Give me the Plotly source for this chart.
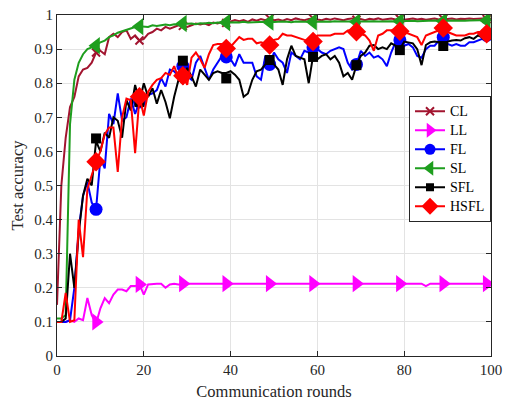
import plotly.graph_objects as go

ROUNDS = list(range(0, 101))
MARKER_ROUNDS = [9, 19, 29, 39, 49, 59, 69, 79, 89, 99]

CL = [0.15, 0.50, 0.64, 0.73, 0.76, 0.82, 0.84, 0.845, 0.86, 0.89,
      0.895, 0.885, 0.935, 0.945, 0.935, 0.95, 0.955, 0.93, 0.94, 0.925,
      0.93, 0.945, 0.95, 0.96, 0.955, 0.965, 0.96, 0.965, 0.97, 0.968,
      0.965, 0.97, 0.975, 0.972, 0.975, 0.97, 0.978, 0.975, 0.98, 0.977,
      0.98, 0.985, 0.982, 0.985, 0.98, 0.987, 0.983, 0.988, 0.985, 0.99,
      0.985, 0.987, 0.983, 0.988, 0.985, 0.99, 0.987, 0.985, 0.988, 0.99,
      0.987, 0.985, 0.989, 0.986, 0.99, 0.987, 0.985, 0.988, 0.99, 0.986,
      0.988, 0.985, 0.989, 0.987, 0.99, 0.986, 0.988, 0.99, 0.987, 0.989,
      0.986, 0.988, 0.99, 0.987, 0.989, 0.986, 0.988, 0.99, 0.987, 0.989,
      0.988, 0.99, 0.987, 0.989, 0.988, 0.99, 0.988, 0.989, 0.99, 0.988,
      0.989]
LL = [0.10, 0.10, 0.10, 0.105, 0.10, 0.11, 0.105, 0.17, 0.12, 0.095,
      0.14, 0.17, 0.155, 0.18, 0.195, 0.195, 0.19, 0.205, 0.205, 0.21,
      0.18, 0.21, 0.212, 0.212, 0.212, 0.20, 0.21, 0.212, 0.21, 0.212,
      0.212, 0.212, 0.211, 0.212, 0.212, 0.212, 0.213, 0.212, 0.212, 0.212,
      0.212, 0.212, 0.212, 0.212, 0.212, 0.212, 0.212, 0.212, 0.212, 0.212,
      0.212, 0.212, 0.212, 0.212, 0.212, 0.212, 0.212, 0.212, 0.212, 0.212,
      0.212, 0.212, 0.212, 0.212, 0.212, 0.212, 0.212, 0.212, 0.212, 0.212,
      0.212, 0.212, 0.212, 0.212, 0.212, 0.212, 0.212, 0.212, 0.212, 0.212,
      0.212, 0.212, 0.212, 0.212, 0.212, 0.205, 0.212, 0.212, 0.212, 0.212,
      0.212, 0.212, 0.212, 0.212, 0.212, 0.212, 0.212, 0.212, 0.212, 0.212,
      0.212]
FL = [0.10, 0.10, 0.10, 0.105, 0.20, 0.37, 0.47, 0.51, 0.45, 0.43,
      0.58, 0.55, 0.71, 0.68, 0.77, 0.69, 0.70, 0.755, 0.71, 0.745,
      0.74, 0.765, 0.77, 0.78, 0.815, 0.79, 0.84, 0.835, 0.82, 0.85,
      0.82, 0.81, 0.86, 0.88, 0.845, 0.81, 0.84, 0.86, 0.88, 0.875,
      0.87, 0.85, 0.885, 0.86, 0.86, 0.86, 0.82, 0.81, 0.88, 0.855,
      0.89, 0.87, 0.86, 0.83, 0.89, 0.88, 0.87, 0.895, 0.89, 0.90,
      0.90, 0.89, 0.885, 0.895, 0.90, 0.905, 0.90, 0.86, 0.84, 0.855,
      0.895, 0.88, 0.89, 0.875, 0.88, 0.87, 0.85, 0.89, 0.92, 0.925,
      0.91, 0.915, 0.905, 0.88, 0.875, 0.90, 0.91, 0.91, 0.925, 0.93,
      0.915, 0.91, 0.915, 0.91, 0.91, 0.92, 0.92, 0.925, 0.93, 0.935,
      0.935]
SL = [0.11, 0.11, 0.12, 0.68, 0.81, 0.86, 0.885, 0.90, 0.905, 0.91,
      0.92, 0.925, 0.935, 0.94, 0.948, 0.952, 0.958, 0.962, 0.965, 0.967,
      0.967, 0.965, 0.97, 0.968, 0.97, 0.972, 0.97, 0.973, 0.972, 0.975,
      0.974, 0.975, 0.973, 0.976, 0.975, 0.977, 0.976, 0.978, 0.977, 0.978,
      0.977, 0.979, 0.978, 0.98, 0.978, 0.979, 0.98, 0.979, 0.98, 0.979,
      0.98, 0.979, 0.981, 0.98, 0.979, 0.981, 0.98, 0.981, 0.98, 0.98,
      0.981, 0.98, 0.981, 0.98, 0.982, 0.981, 0.98, 0.981, 0.982, 0.98,
      0.981, 0.982, 0.981, 0.982, 0.981, 0.982, 0.983, 0.982, 0.981, 0.982,
      0.983, 0.982, 0.983, 0.982, 0.983, 0.982, 0.983, 0.984, 0.983, 0.982,
      0.983, 0.984, 0.983, 0.984, 0.983, 0.984, 0.984, 0.983, 0.984, 0.984,
      0.985]
SFL = [0.10, 0.10, 0.11, 0.30, 0.20, 0.36, 0.47, 0.52, 0.50, 0.63,
       0.60, 0.655, 0.64, 0.70, 0.69, 0.64, 0.75, 0.72, 0.795, 0.745,
       0.80, 0.76, 0.785, 0.74, 0.78, 0.745, 0.697, 0.76, 0.81, 0.80,
       0.845, 0.82, 0.79, 0.84, 0.825, 0.81, 0.83, 0.835, 0.83, 0.83,
       0.835, 0.825, 0.81, 0.76, 0.77, 0.81, 0.835, 0.84, 0.855, 0.865,
       0.855, 0.84, 0.795, 0.87, 0.91, 0.88, 0.875, 0.87, 0.80, 0.88,
       0.87, 0.88, 0.885, 0.87, 0.88, 0.86, 0.82, 0.83, 0.81, 0.853,
       0.88, 0.89, 0.91, 0.912, 0.90, 0.905, 0.90, 0.917, 0.91, 0.90,
       0.922, 0.92, 0.917, 0.90, 0.853, 0.912, 0.92, 0.922, 0.92, 0.91,
       0.922, 0.925, 0.927, 0.925, 0.932, 0.935, 0.93, 0.94, 0.935, 0.94,
       0.945]
HSFL = [0.10, 0.10, 0.185, 0.10, 0.105, 0.40, 0.29, 0.49, 0.53, 0.57,
        0.60, 0.65, 0.67, 0.67, 0.54, 0.70, 0.755, 0.75, 0.595, 0.76,
        0.705, 0.775, 0.795, 0.81, 0.815, 0.83, 0.824, 0.85, 0.815, 0.82,
        0.795, 0.875, 0.89, 0.87, 0.845, 0.885, 0.912, 0.915, 0.915, 0.905,
        0.907, 0.922, 0.935, 0.927, 0.93, 0.93, 0.917, 0.92, 0.915, 0.912,
        0.927, 0.93, 0.945, 0.94, 0.94, 0.935, 0.93, 0.927, 0.925, 0.922,
        0.94, 0.94, 0.94, 0.94, 0.945, 0.946, 0.945, 0.955, 0.956, 0.95,
        0.945, 0.94, 0.925, 0.895, 0.94, 0.945, 0.955, 0.955, 0.96, 0.955,
        0.95, 0.945, 0.94, 0.935, 0.912, 0.94, 0.945, 0.95, 0.955, 0.96,
        0.95, 0.945, 0.94, 0.94, 0.94, 0.945, 0.945, 0.95, 0.95, 0.95,
        0.945]

CL_MK = [0.89, 0.925, 0.968, 0.977, 0.99, 0.99, 0.986, 0.989, 0.989, 0.988]
LL_MK = [0.10, 0.21, 0.212, 0.212, 0.212, 0.212, 0.212, 0.212, 0.212, 0.212]
FL_MK = [0.43, 0.745, 0.85, 0.877, 0.855, 0.905, 0.855, 0.927, 0.935, 0.94]
SL_MK = [0.91, 0.966, 0.975, 0.978, 0.979, 0.98, 0.98, 0.982, 0.982, 0.984]
SFL_MK = [0.638, 0.745, 0.866, 0.814, 0.868, 0.877, 0.853, 0.897, 0.909, 0.943]
HSFL_MK = [0.57, 0.76, 0.822, 0.902, 0.912, 0.922, 0.951, 0.952, 0.962, 0.945]

NAMES = ["CL", "LL", "FL", "SL", "SFL", "HSFL"]
COLORS = ["#A2142F", "#FF00FF", "#0000FF", "#1E9E1E", "#000000", "#FF0000"]
SYMBOLS = ["x-thin", "triangle-right", "circle", "triangle-left", "square", "diamond"]
SIZES = [8, 15, 13, 15, 10, 15]
LEG_SIZES = [8, 13, 11, 13, 8, 13]

series = [CL, LL, FL, SL, SFL, HSFL]
marks = [CL_MK, LL_MK, FL_MK, SL_MK, SFL_MK, HSFL_MK]

SERIF = "Liberation Serif"

fig = go.Figure()
for name, col, sym, sz, ys, mk in zip(NAMES, COLORS, SYMBOLS, SIZES, series, marks):
    mline = dict(color=col, width=2) if sym == "x-thin" else dict(width=0)
    fig.add_trace(go.Scatter(x=ROUNDS, y=ys, mode="lines", line=dict(color=col, width=2),
                             showlegend=False, hoverinfo="skip"))
    fig.add_trace(go.Scatter(x=MARKER_ROUNDS, y=mk, mode="markers",
                             marker=dict(symbol=sym, size=sz, color=col, line=mline),
                             showlegend=False, hoverinfo="skip"))

for name, col, sym, lsz in zip(NAMES, COLORS, SYMBOLS, LEG_SIZES):
    mline = dict(color=col, width=2) if sym == "x-thin" else dict(width=0)
    fig.add_trace(go.Scatter(x=[None], y=[None], mode="lines+markers",
                             name='<span style="font-size:14px">' + name + "</span>",
                             line=dict(color=col, width=2),
                             marker=dict(symbol=sym, size=lsz, color=col, line=mline)))

axis_common = dict(showline=True, linecolor="#262626", linewidth=1, mirror="ticks",
                   ticks="inside", ticklen=5, tickcolor="#262626", automargin=False,
                   showgrid=True, gridcolor="#e3e3e3", gridwidth=1, zeroline=False,
                   tickfont=dict(family=SERIF, size=15, color="#262626"))

fig.update_layout(
    width=506, height=402,
    margin=dict(l=57, r=15, t=15, b=46),
    paper_bgcolor="white", plot_bgcolor="white",
    font=dict(family=SERIF, color="#262626"),
    xaxis=dict(range=[0, 100], tickvals=[0, 20, 40, 60, 80, 100],
               title=dict(text="Communication rounds", font=dict(family=SERIF, size=16.5), standoff=8),
               **axis_common),
    yaxis=dict(range=[0, 1], tickvals=[i / 10 for i in range(11)],
               ticktext=["0", "0.1", "0.2", "0.3", "0.4", "0.5", "0.6", "0.7", "0.8", "0.9", "1"],
               title=dict(text="Test accuracy", font=dict(family=SERIF, size=16.5), standoff=6),
               **axis_common),
    legend=dict(x=1, xanchor="right", y=0.763, yanchor="top",
                bgcolor="white", bordercolor="#262626", borderwidth=1,
                font=dict(family=SERIF, size=11, color="#000000"),
                tracegroupgap=0, itemwidth=30, itemsizing="trace"),
    showlegend=True,
)

fig.write_html("out.html")
